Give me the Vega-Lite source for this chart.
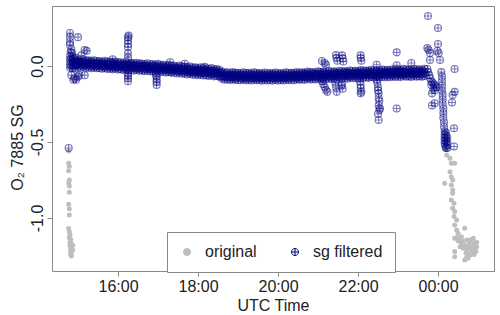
{
"$schema":"https://vega.github.io/schema/vega-lite/v6.json",
"autosize":{"type":"none"},
"width":442,"height":265,
"padding":{"left":52,"top":6,"right":6,"bottom":44},
"background":"white",
"encoding":{
 "x":{"field":"t","type":"temporal","title":"UTC Time",
  "scale":{"type":"utc","domain":[{"year":1900,"month":1,"date":1,"hours":14,"minutes":21,"utc":true},{"year":1900,"month":1,"date":2,"hours":1,"minutes":24,"utc":true}]},
  "axis":{"values":[{"year":1900,"month":1,"date":1,"hours":16,"utc":true},{"year":1900,"month":1,"date":1,"hours":18,"utc":true},{"year":1900,"month":1,"date":1,"hours":20,"utc":true},{"year":1900,"month":1,"date":1,"hours":22,"utc":true},{"year":1900,"month":1,"date":2,"hours":0,"utc":true}],
   "format":"%H:%M","labelPadding":2,"labelFlush":false,"labelOverlap":false,"titleY":39,"titleBaseline":"alphabetic","titleAlign":"center"}},
 "y":{"field":"v","type":"quantitative","title":"O₂ 7885 SG",
  "scale":{"domain":[-1.349,0.395],"nice":false,"zero":false},
  "axis":{"values":[-1,-0.5,0],"labelExpr":"replace(format(datum.value, '.1f'), '−', '-')","labelAngle":270,"labelAlign":"center","labelBaseline":"alphabetic","labelPadding":5,"titleX":-30,"titleY":141,"titleAngle":270,"titleAlign":"center","titleBaseline":"alphabetic"}}
},
"layer":[
 {"data":{"format":{"parse":{"t":"utc:'%d %H:%M'"}},"values":[
{"t":"01 14:46","v":-0.56},{"t":"01 14:46","v":-0.64},{"t":"01 14:47","v":-0.66},{"t":"01 14:46","v":-0.69},{"t":"01 14:47","v":-0.75},{"t":"01 14:46","v":-0.77},{"t":"01 14:47","v":-0.79},{"t":"01 14:47","v":-0.83},{"t":"01 14:46","v":-0.91},{"t":"01 14:47","v":-0.94},{"t":"01 14:47","v":-0.98},{"t":"01 14:46","v":-1.07},{"t":"01 14:47","v":-1.09},{"t":"01 14:48","v":-1.11},{"t":"01 14:47","v":-1.13},{"t":"01 14:49","v":-1.14},{"t":"01 14:48","v":-1.16},{"t":"01 14:50","v":-1.17},{"t":"01 14:48","v":-1.18},{"t":"01 14:50","v":-1.19},{"t":"01 14:49","v":-1.2},{"t":"01 14:51","v":-1.21},{"t":"01 14:49","v":-1.22},{"t":"01 14:50","v":-1.23},{"t":"01 14:49","v":-1.24},{"t":"01 14:50","v":-1.25},{"t":"01 14:52","v":-1.18},{"t":"01 14:52","v":-1.21},
{"t":"02 00:12","v":-0.55},{"t":"02 00:13","v":-0.586},{"t":"02 00:18","v":-0.607},{"t":"02 00:20","v":-0.64},{"t":"02 00:25","v":-0.64},{"t":"02 00:18","v":-0.695},{"t":"02 00:20","v":-0.728},{"t":"02 00:10","v":-0.772},{"t":"02 00:22","v":-0.75},{"t":"02 00:20","v":-0.783},{"t":"02 00:22","v":-0.816},{"t":"02 00:22","v":-0.838},{"t":"02 00:20","v":-0.882},{"t":"02 00:24","v":-0.903},{"t":"02 00:22","v":-0.936},{"t":"02 00:25","v":-0.958},{"t":"02 00:24","v":-0.99},{"t":"02 00:28","v":-1.013},{"t":"02 00:40","v":-1.068},{"t":"02 00:25","v":-1.046},{"t":"02 00:28","v":-1.079},{"t":"02 00:25","v":-1.134},{"t":"02 00:30","v":-1.1},{"t":"02 00:33","v":-1.145},{"t":"02 00:35","v":-1.123},{"t":"02 00:38","v":-1.167},{"t":"02 00:43","v":-1.145},{"t":"02 00:48","v":-1.145},{"t":"02 00:53","v":-1.134},{"t":"02 00:55","v":-1.167},{"t":"02 00:58","v":-1.189},{"t":"02 00:53","v":-1.21},{"t":"02 00:48","v":-1.243},{"t":"02 00:45","v":-1.265},{"t":"02 00:40","v":-1.276},{"t":"02 00:25","v":-1.221},{"t":"02 00:25","v":-1.255},{"t":"02 00:50","v":-1.2},{"t":"02 00:43","v":-1.21},
{"t":"02 00:36","v":-1.15},{"t":"02 00:38","v":-1.2},{"t":"02 00:40","v":-1.18},{"t":"02 00:42","v":-1.23},{"t":"02 00:45","v":-1.19},{"t":"02 00:47","v":-1.17},{"t":"02 00:50","v":-1.16},{"t":"02 00:52","v":-1.19},{"t":"02 00:55","v":-1.21},{"t":"02 00:57","v":-1.22},{"t":"02 00:45","v":-1.24},{"t":"02 00:50","v":-1.23},{"t":"02 00:43","v":-1.26},{"t":"02 00:48","v":-1.2},{"t":"02 00:54","v":-1.24},{"t":"02 00:58","v":-1.16},{"t":"02 00:35","v":-1.17},{"t":"02 00:33","v":-1.19},{"t":"02 00:30","v":-1.15},{"t":"02 00:28","v":-1.13}
 ]},
 "mark":{"type":"point","size":25,"strokeWidth":0,"opacity":1},
 "encoding":{
  "fill":{"datum":"original","title":null,"scale":{"domain":["original","sg filtered"],"range":["#bebebe","transparent"]}},
  "stroke":{"datum":"original","title":null,"scale":{"domain":["original","sg filtered"],"range":["#bebebe","#000080"]}},
  "shape":{"datum":"original","title":null,"scale":{"domain":["original","sg filtered"],"range":["circle","M-1,0A1,1,0,1,1,1,0A1,1,0,1,1,-1,0ZM-1,0H1M0,-1V1"]}}
 }},
 {"data":{"format":{"parse":{"t":"utc:'%d %H:%M'"}},"values":[
{"t":"01 14:48","v":0.062},{"t":"01 14:48","v":0.038},{"t":"01 14:48","v":0.012},{"t":"01 14:48","v":-0.012},
{"t":"01 14:52","v":0.058},{"t":"01 14:52","v":0.035},{"t":"01 14:52","v":0.010},{"t":"01 14:52","v":-0.014},
{"t":"01 14:56","v":0.055},{"t":"01 14:56","v":0.030},{"t":"01 14:56","v":0.006},{"t":"01 14:56","v":-0.016},
{"t":"01 15:00","v":0.041},{"t":"01 15:00","v":0.017},{"t":"01 15:00","v":-0.005},
{"t":"01 15:04","v":0.036},{"t":"01 15:04","v":0.020},{"t":"01 15:04","v":-0.010},
{"t":"01 15:08","v":0.042},{"t":"01 15:08","v":0.012},{"t":"01 15:08","v":-0.005},
{"t":"01 15:12","v":0.036},{"t":"01 15:12","v":0.016},{"t":"01 15:12","v":-0.011},
{"t":"01 15:16","v":0.037},{"t":"01 15:16","v":0.013},{"t":"01 15:16","v":-0.009},
{"t":"01 15:20","v":0.032},{"t":"01 15:20","v":0.016},{"t":"01 15:20","v":-0.014},
{"t":"01 15:24","v":0.038},{"t":"01 15:24","v":0.008},{"t":"01 15:24","v":-0.009},
{"t":"01 15:28","v":0.032},{"t":"01 15:28","v":0.012},{"t":"01 15:28","v":-0.015},
{"t":"01 15:32","v":0.033},{"t":"01 15:32","v":0.009},{"t":"01 15:32","v":-0.013},
{"t":"01 15:36","v":0.028},{"t":"01 15:36","v":0.012},{"t":"01 15:36","v":-0.018},
{"t":"01 15:40","v":0.034},{"t":"01 15:40","v":0.004},{"t":"01 15:40","v":-0.013},
{"t":"01 15:44","v":0.028},{"t":"01 15:44","v":0.008},{"t":"01 15:44","v":-0.019},
{"t":"01 15:48","v":0.029},{"t":"01 15:48","v":0.005},{"t":"01 15:48","v":-0.017},
{"t":"01 15:52","v":0.024},{"t":"01 15:52","v":0.008},{"t":"01 15:52","v":-0.022},
{"t":"01 15:56","v":0.030},{"t":"01 15:56","v":0.000},{"t":"01 15:56","v":-0.017},
{"t":"01 16:00","v":0.024},{"t":"01 16:00","v":0.004},{"t":"01 16:00","v":-0.023},
{"t":"01 16:04","v":0.025},{"t":"01 16:04","v":0.001},{"t":"01 16:04","v":-0.021},
{"t":"01 16:08","v":0.020},{"t":"01 16:08","v":0.004},{"t":"01 16:08","v":-0.026},
{"t":"01 16:12","v":0.026},{"t":"01 16:12","v":-0.004},{"t":"01 16:12","v":-0.021},
{"t":"01 16:16","v":0.020},{"t":"01 16:16","v":0.000},{"t":"01 16:16","v":-0.027},
{"t":"01 16:20","v":0.021},{"t":"01 16:20","v":-0.003},{"t":"01 16:20","v":-0.025},
{"t":"01 16:24","v":0.016},{"t":"01 16:24","v":0.000},{"t":"01 16:24","v":-0.030},
{"t":"01 16:28","v":0.022},{"t":"01 16:28","v":-0.008},{"t":"01 16:28","v":-0.025},
{"t":"01 16:32","v":0.016},{"t":"01 16:32","v":-0.004},{"t":"01 16:32","v":-0.031},
{"t":"01 16:36","v":0.017},{"t":"01 16:36","v":-0.007},{"t":"01 16:36","v":-0.029},
{"t":"01 16:40","v":0.012},{"t":"01 16:40","v":-0.004},{"t":"01 16:40","v":-0.034},
{"t":"01 16:44","v":0.018},{"t":"01 16:44","v":-0.012},{"t":"01 16:44","v":-0.029},
{"t":"01 16:48","v":0.012},{"t":"01 16:48","v":-0.008},{"t":"01 16:48","v":-0.035},
{"t":"01 16:52","v":0.013},{"t":"01 16:52","v":-0.011},{"t":"01 16:52","v":-0.033},
{"t":"01 16:56","v":0.008},{"t":"01 16:56","v":-0.008},{"t":"01 16:56","v":-0.038},
{"t":"01 17:00","v":0.014},{"t":"01 17:00","v":-0.016},{"t":"01 17:00","v":-0.033},
{"t":"01 17:04","v":0.007},{"t":"01 17:04","v":-0.013},{"t":"01 17:04","v":-0.040},
{"t":"01 17:08","v":0.008},{"t":"01 17:08","v":-0.016},{"t":"01 17:08","v":-0.038},
{"t":"01 17:12","v":0.003},{"t":"01 17:12","v":-0.013},{"t":"01 17:12","v":-0.043},
{"t":"01 17:16","v":0.008},{"t":"01 17:16","v":-0.022},{"t":"01 17:16","v":-0.039},
{"t":"01 17:20","v":0.002},{"t":"01 17:20","v":-0.018},{"t":"01 17:20","v":-0.045},
{"t":"01 17:24","v":0.003},{"t":"01 17:24","v":-0.021},{"t":"01 17:24","v":-0.043},
{"t":"01 17:28","v":-0.003},{"t":"01 17:28","v":-0.019},{"t":"01 17:28","v":-0.049},
{"t":"01 17:32","v":0.003},{"t":"01 17:32","v":-0.027},{"t":"01 17:32","v":-0.044},
{"t":"01 17:36","v":-0.004},{"t":"01 17:36","v":-0.024},{"t":"01 17:36","v":-0.051},
{"t":"01 17:40","v":-0.003},{"t":"01 17:40","v":-0.027},{"t":"01 17:40","v":-0.049},
{"t":"01 17:44","v":-0.009},{"t":"01 17:44","v":-0.025},{"t":"01 17:44","v":-0.055},
{"t":"01 17:48","v":-0.003},{"t":"01 17:48","v":-0.033},{"t":"01 17:48","v":-0.050},
{"t":"01 17:52","v":-0.010},{"t":"01 17:52","v":-0.030},{"t":"01 17:52","v":-0.057},
{"t":"01 17:56","v":-0.009},{"t":"01 17:56","v":-0.033},{"t":"01 17:56","v":-0.055},
{"t":"01 18:00","v":-0.015},{"t":"01 18:00","v":-0.031},{"t":"01 18:00","v":-0.061},
{"t":"01 18:04","v":-0.009},{"t":"01 18:04","v":-0.039},{"t":"01 18:04","v":-0.056},
{"t":"01 18:08","v":-0.015},{"t":"01 18:08","v":-0.035},{"t":"01 18:08","v":-0.062},
{"t":"01 18:12","v":-0.015},{"t":"01 18:12","v":-0.039},{"t":"01 18:12","v":-0.061},
{"t":"01 18:16","v":-0.020},{"t":"01 18:16","v":-0.036},{"t":"01 18:16","v":-0.066},
{"t":"01 18:20","v":-0.014},{"t":"01 18:20","v":-0.044},{"t":"01 18:20","v":-0.061},
{"t":"01 18:24","v":-0.021},{"t":"01 18:24","v":-0.041},{"t":"01 18:24","v":-0.068},
{"t":"01 18:28","v":-0.020},{"t":"01 18:28","v":-0.044},{"t":"01 18:28","v":-0.066},
{"t":"01 18:32","v":-0.025},{"t":"01 18:32","v":-0.041},{"t":"01 18:32","v":-0.071},
{"t":"01 18:36","v":-0.037},{"t":"01 18:36","v":-0.067},{"t":"01 18:36","v":-0.084},
{"t":"01 18:40","v":-0.043},{"t":"01 18:40","v":-0.063},{"t":"01 18:40","v":-0.090},
{"t":"01 18:44","v":-0.041},{"t":"01 18:44","v":-0.065},{"t":"01 18:44","v":-0.087},
{"t":"01 18:48","v":-0.046},{"t":"01 18:48","v":-0.062},{"t":"01 18:48","v":-0.092},
{"t":"01 18:52","v":-0.040},{"t":"01 18:52","v":-0.070},{"t":"01 18:52","v":-0.087},
{"t":"01 18:56","v":-0.045},{"t":"01 18:56","v":-0.065},{"t":"01 18:56","v":-0.092},
{"t":"01 19:00","v":-0.044},{"t":"01 19:00","v":-0.068},{"t":"01 19:00","v":-0.090},
{"t":"01 19:04","v":-0.048},{"t":"01 19:04","v":-0.064},{"t":"01 19:04","v":-0.094},
{"t":"01 19:08","v":-0.041},{"t":"01 19:08","v":-0.071},{"t":"01 19:08","v":-0.088},
{"t":"01 19:12","v":-0.047},{"t":"01 19:12","v":-0.067},{"t":"01 19:12","v":-0.094},
{"t":"01 19:16","v":-0.045},{"t":"01 19:16","v":-0.069},{"t":"01 19:16","v":-0.091},
{"t":"01 19:20","v":-0.049},{"t":"01 19:20","v":-0.065},{"t":"01 19:20","v":-0.095},
{"t":"01 19:24","v":-0.042},{"t":"01 19:24","v":-0.072},{"t":"01 19:24","v":-0.089},
{"t":"01 19:28","v":-0.047},{"t":"01 19:28","v":-0.067},{"t":"01 19:28","v":-0.094},
{"t":"01 19:32","v":-0.046},{"t":"01 19:32","v":-0.070},{"t":"01 19:32","v":-0.092},
{"t":"01 19:36","v":-0.050},{"t":"01 19:36","v":-0.066},{"t":"01 19:36","v":-0.096},
{"t":"01 19:40","v":-0.043},{"t":"01 19:40","v":-0.073},{"t":"01 19:40","v":-0.090},
{"t":"01 19:44","v":-0.048},{"t":"01 19:44","v":-0.068},{"t":"01 19:44","v":-0.095},
{"t":"01 19:48","v":-0.046},{"t":"01 19:48","v":-0.070},{"t":"01 19:48","v":-0.092},
{"t":"01 19:52","v":-0.050},{"t":"01 19:52","v":-0.066},{"t":"01 19:52","v":-0.096},
{"t":"01 19:56","v":-0.043},{"t":"01 19:56","v":-0.073},{"t":"01 19:56","v":-0.090},
{"t":"01 20:00","v":-0.048},{"t":"01 20:00","v":-0.068},{"t":"01 20:00","v":-0.095},
{"t":"01 20:04","v":-0.046},{"t":"01 20:04","v":-0.070},{"t":"01 20:04","v":-0.092},
{"t":"01 20:08","v":-0.049},{"t":"01 20:08","v":-0.065},{"t":"01 20:08","v":-0.095},
{"t":"01 20:12","v":-0.042},{"t":"01 20:12","v":-0.072},{"t":"01 20:12","v":-0.089},
{"t":"01 20:16","v":-0.046},{"t":"01 20:16","v":-0.066},{"t":"01 20:16","v":-0.093},
{"t":"01 20:20","v":-0.044},{"t":"01 20:20","v":-0.068},{"t":"01 20:20","v":-0.090},
{"t":"01 20:24","v":-0.047},{"t":"01 20:24","v":-0.063},{"t":"01 20:24","v":-0.093},
{"t":"01 20:28","v":-0.039},{"t":"01 20:28","v":-0.069},{"t":"01 20:28","v":-0.086},
{"t":"01 20:32","v":-0.044},{"t":"01 20:32","v":-0.064},{"t":"01 20:32","v":-0.091},
{"t":"01 20:36","v":-0.041},{"t":"01 20:36","v":-0.065},{"t":"01 20:36","v":-0.087},
{"t":"01 20:40","v":-0.045},{"t":"01 20:40","v":-0.061},{"t":"01 20:40","v":-0.091},
{"t":"01 20:44","v":-0.037},{"t":"01 20:44","v":-0.067},{"t":"01 20:44","v":-0.084},
{"t":"01 20:48","v":-0.042},{"t":"01 20:48","v":-0.062},{"t":"01 20:48","v":-0.089},
{"t":"01 20:52","v":-0.039},{"t":"01 20:52","v":-0.063},{"t":"01 20:52","v":-0.085},
{"t":"01 20:56","v":-0.043},{"t":"01 20:56","v":-0.059},{"t":"01 20:56","v":-0.089},
{"t":"01 21:00","v":-0.035},{"t":"01 21:00","v":-0.065},{"t":"01 21:00","v":-0.082},
{"t":"01 21:04","v":-0.040},{"t":"01 21:04","v":-0.060},{"t":"01 21:04","v":-0.087},
{"t":"01 21:08","v":-0.037},{"t":"01 21:08","v":-0.061},{"t":"01 21:08","v":-0.083},
{"t":"01 21:12","v":-0.041},{"t":"01 21:12","v":-0.057},{"t":"01 21:12","v":-0.087},
{"t":"01 21:16","v":-0.033},{"t":"01 21:16","v":-0.063},{"t":"01 21:16","v":-0.080},
{"t":"01 21:20","v":-0.038},{"t":"01 21:20","v":-0.058},{"t":"01 21:20","v":-0.085},
{"t":"01 21:24","v":-0.035},{"t":"01 21:24","v":-0.059},{"t":"01 21:24","v":-0.081},
{"t":"01 21:28","v":-0.039},{"t":"01 21:28","v":-0.055},{"t":"01 21:28","v":-0.085},
{"t":"01 21:32","v":-0.031},{"t":"01 21:32","v":-0.061},{"t":"01 21:32","v":-0.078},
{"t":"01 21:36","v":-0.036},{"t":"01 21:36","v":-0.056},{"t":"01 21:36","v":-0.083},
{"t":"01 21:40","v":-0.033},{"t":"01 21:40","v":-0.057},{"t":"01 21:40","v":-0.079},
{"t":"01 21:44","v":-0.037},{"t":"01 21:44","v":-0.053},{"t":"01 21:44","v":-0.083},
{"t":"01 21:48","v":-0.029},{"t":"01 21:48","v":-0.059},{"t":"01 21:48","v":-0.076},
{"t":"01 21:52","v":-0.033},{"t":"01 21:52","v":-0.053},{"t":"01 21:52","v":-0.080},
{"t":"01 21:56","v":-0.031},{"t":"01 21:56","v":-0.055},{"t":"01 21:56","v":-0.077},
{"t":"01 22:00","v":-0.034},{"t":"01 22:00","v":-0.050},{"t":"01 22:00","v":-0.080},
{"t":"01 22:04","v":-0.027},{"t":"01 22:04","v":-0.057},{"t":"01 22:04","v":-0.074},
{"t":"01 22:08","v":-0.031},{"t":"01 22:08","v":-0.051},{"t":"01 22:08","v":-0.078},
{"t":"01 22:12","v":-0.029},{"t":"01 22:12","v":-0.053},{"t":"01 22:12","v":-0.075},
{"t":"01 22:16","v":-0.032},{"t":"01 22:16","v":-0.048},{"t":"01 22:16","v":-0.078},
{"t":"01 22:20","v":-0.025},{"t":"01 22:20","v":-0.055},{"t":"01 22:20","v":-0.072},
{"t":"01 22:24","v":-0.029},{"t":"01 22:24","v":-0.049},{"t":"01 22:24","v":-0.076},
{"t":"01 22:28","v":-0.027},{"t":"01 22:28","v":-0.051},{"t":"01 22:28","v":-0.073},
{"t":"01 22:32","v":-0.030},{"t":"01 22:32","v":-0.046},{"t":"01 22:32","v":-0.076},
{"t":"01 22:36","v":-0.023},{"t":"01 22:36","v":-0.053},{"t":"01 22:36","v":-0.070},
{"t":"01 22:40","v":-0.027},{"t":"01 22:40","v":-0.047},{"t":"01 22:40","v":-0.074},
{"t":"01 22:44","v":-0.025},{"t":"01 22:44","v":-0.049},{"t":"01 22:44","v":-0.071},
{"t":"01 22:48","v":-0.028},{"t":"01 22:48","v":-0.044},{"t":"01 22:48","v":-0.074},
{"t":"01 22:52","v":-0.021},{"t":"01 22:52","v":-0.051},{"t":"01 22:52","v":-0.068},
{"t":"01 22:56","v":-0.025},{"t":"01 22:56","v":-0.045},{"t":"01 22:56","v":-0.072},
{"t":"01 23:00","v":-0.023},{"t":"01 23:00","v":-0.047},{"t":"01 23:00","v":-0.069},
{"t":"01 23:04","v":-0.027},{"t":"01 23:04","v":-0.043},{"t":"01 23:04","v":-0.073},
{"t":"01 23:08","v":-0.019},{"t":"01 23:08","v":-0.049},{"t":"01 23:08","v":-0.066},
{"t":"01 23:12","v":-0.024},{"t":"01 23:12","v":-0.044},{"t":"01 23:12","v":-0.071},
{"t":"01 23:16","v":-0.022},{"t":"01 23:16","v":-0.046},{"t":"01 23:16","v":-0.068},
{"t":"01 23:20","v":-0.026},{"t":"01 23:20","v":-0.042},{"t":"01 23:20","v":-0.072},
{"t":"01 23:24","v":-0.018},{"t":"01 23:24","v":-0.048},{"t":"01 23:24","v":-0.065},
{"t":"01 23:28","v":-0.023},{"t":"01 23:28","v":-0.043},{"t":"01 23:28","v":-0.070},
{"t":"01 23:32","v":-0.021},{"t":"01 23:32","v":-0.045},{"t":"01 23:32","v":-0.067},
{"t":"01 23:36","v":-0.025},{"t":"01 23:36","v":-0.041},{"t":"01 23:36","v":-0.071},
{"t":"01 23:40","v":-0.018},{"t":"01 23:40","v":-0.048},{"t":"01 23:40","v":-0.065},
{"t":"01 14:50","v":0.050},{"t":"01 14:50","v":0.025},{"t":"01 14:50","v":-0.002},
{"t":"01 14:54","v":0.047},{"t":"01 14:54","v":0.022},{"t":"01 14:54","v":-0.005},
{"t":"01 14:58","v":0.030},{"t":"01 14:58","v":0.006},{"t":"01 15:02","v":0.029},{"t":"01 15:02","v":0.005},
{"t":"01 15:06","v":0.028},{"t":"01 15:06","v":0.004},{"t":"01 15:10","v":0.027},{"t":"01 15:10","v":0.003},
{"t":"01 15:14","v":0.025},{"t":"01 15:14","v":0.002},{"t":"01 15:18","v":0.024},{"t":"01 15:18","v":0.001},
{"t":"01 15:22","v":0.023},{"t":"01 15:22","v":0.000},{"t":"01 15:26","v":0.022},{"t":"01 15:26","v":-0.001},
{"t":"01 15:30","v":0.021},{"t":"01 15:30","v":-0.002},{"t":"01 15:34","v":0.020},{"t":"01 15:34","v":-0.003},
{"t":"01 15:38","v":0.019},{"t":"01 15:38","v":-0.004},{"t":"01 15:42","v":0.018},{"t":"01 15:42","v":-0.005},
{"t":"01 15:46","v":0.017},{"t":"01 15:46","v":-0.006},{"t":"01 15:50","v":0.016},{"t":"01 15:50","v":-0.007},
{"t":"01 15:54","v":0.015},{"t":"01 15:54","v":-0.008},{"t":"01 15:58","v":0.014},{"t":"01 15:58","v":-0.009},
{"t":"01 16:02","v":0.013},{"t":"01 16:02","v":-0.010},{"t":"01 16:06","v":0.012},{"t":"01 16:06","v":-0.011},
{"t":"01 16:10","v":0.011},{"t":"01 16:10","v":-0.012},{"t":"01 16:14","v":0.010},{"t":"01 16:14","v":-0.013},
{"t":"01 16:18","v":0.009},{"t":"01 16:18","v":-0.014},{"t":"01 16:22","v":0.008},{"t":"01 16:22","v":-0.015},
{"t":"01 16:26","v":0.007},{"t":"01 16:26","v":-0.016},{"t":"01 16:30","v":0.006},{"t":"01 16:30","v":-0.017},
{"t":"01 16:34","v":0.005},{"t":"01 16:34","v":-0.018},{"t":"01 16:38","v":0.004},{"t":"01 16:38","v":-0.019},
{"t":"01 16:42","v":0.003},{"t":"01 16:42","v":-0.020},{"t":"01 16:46","v":0.002},{"t":"01 16:46","v":-0.021},
{"t":"01 16:50","v":0.001},{"t":"01 16:50","v":-0.022},{"t":"01 16:54","v":0.000},{"t":"01 16:54","v":-0.023},
{"t":"01 16:58","v":-0.001},{"t":"01 16:58","v":-0.024},{"t":"01 17:02","v":-0.002},{"t":"01 17:02","v":-0.025},
{"t":"01 17:06","v":-0.004},{"t":"01 17:06","v":-0.027},{"t":"01 17:10","v":-0.005},{"t":"01 17:10","v":-0.028},
{"t":"01 17:14","v":-0.006},{"t":"01 17:14","v":-0.029},{"t":"01 17:18","v":-0.008},{"t":"01 17:18","v":-0.031},
{"t":"01 17:22","v":-0.009},{"t":"01 17:22","v":-0.032},{"t":"01 17:26","v":-0.010},{"t":"01 17:26","v":-0.033},
{"t":"01 17:30","v":-0.012},{"t":"01 17:30","v":-0.035},{"t":"01 17:34","v":-0.013},{"t":"01 17:34","v":-0.036},
{"t":"01 17:38","v":-0.015},{"t":"01 17:38","v":-0.038},{"t":"01 17:42","v":-0.016},{"t":"01 17:42","v":-0.039},
{"t":"01 17:46","v":-0.018},{"t":"01 17:46","v":-0.041},{"t":"01 17:50","v":-0.019},{"t":"01 17:50","v":-0.042},
{"t":"01 17:54","v":-0.021},{"t":"01 17:54","v":-0.044},{"t":"01 17:58","v":-0.022},{"t":"01 17:58","v":-0.045},
{"t":"01 18:02","v":-0.024},{"t":"01 18:02","v":-0.047},{"t":"01 18:06","v":-0.025},{"t":"01 18:06","v":-0.048},
{"t":"01 18:10","v":-0.026},{"t":"01 18:10","v":-0.049},{"t":"01 18:14","v":-0.028},{"t":"01 18:14","v":-0.051},
{"t":"01 18:18","v":-0.029},{"t":"01 18:18","v":-0.052},{"t":"01 18:22","v":-0.030},{"t":"01 18:22","v":-0.053},
{"t":"01 18:26","v":-0.032},{"t":"01 18:26","v":-0.055},{"t":"01 18:30","v":-0.033},{"t":"01 18:30","v":-0.056},
{"t":"01 18:34","v":-0.045},{"t":"01 18:34","v":-0.068},{"t":"01 18:38","v":-0.053},{"t":"01 18:38","v":-0.076},
{"t":"01 18:42","v":-0.053},{"t":"01 18:42","v":-0.076},{"t":"01 18:46","v":-0.054},{"t":"01 18:46","v":-0.077},
{"t":"01 18:50","v":-0.055},{"t":"01 18:50","v":-0.078},{"t":"01 18:54","v":-0.055},{"t":"01 18:54","v":-0.078},
{"t":"01 18:58","v":-0.056},{"t":"01 18:58","v":-0.079},{"t":"01 19:02","v":-0.056},{"t":"01 19:02","v":-0.079},
{"t":"01 19:06","v":-0.056},{"t":"01 19:06","v":-0.079},{"t":"01 19:10","v":-0.057},{"t":"01 19:10","v":-0.080},
{"t":"01 19:14","v":-0.057},{"t":"01 19:14","v":-0.080},{"t":"01 19:18","v":-0.057},{"t":"01 19:18","v":-0.080},
{"t":"01 19:22","v":-0.057},{"t":"01 19:22","v":-0.080},{"t":"01 19:26","v":-0.057},{"t":"01 19:26","v":-0.080},
{"t":"01 19:30","v":-0.058},{"t":"01 19:30","v":-0.081},{"t":"01 19:34","v":-0.058},{"t":"01 19:34","v":-0.081},
{"t":"01 19:38","v":-0.058},{"t":"01 19:38","v":-0.081},{"t":"01 19:42","v":-0.058},{"t":"01 19:42","v":-0.081},
{"t":"01 19:46","v":-0.058},{"t":"01 19:46","v":-0.081},{"t":"01 19:50","v":-0.058},{"t":"01 19:50","v":-0.081},
{"t":"01 19:54","v":-0.058},{"t":"01 19:54","v":-0.081},{"t":"01 19:58","v":-0.058},{"t":"01 19:58","v":-0.081},
{"t":"01 20:02","v":-0.058},{"t":"01 20:02","v":-0.081},{"t":"01 20:06","v":-0.058},{"t":"01 20:06","v":-0.081},
{"t":"01 20:10","v":-0.057},{"t":"01 20:10","v":-0.080},{"t":"01 20:14","v":-0.057},{"t":"01 20:14","v":-0.080},
{"t":"01 20:18","v":-0.056},{"t":"01 20:18","v":-0.079},{"t":"01 20:22","v":-0.056},{"t":"01 20:22","v":-0.079},
{"t":"01 20:26","v":-0.055},{"t":"01 20:26","v":-0.078},{"t":"01 20:30","v":-0.054},{"t":"01 20:30","v":-0.077},
{"t":"01 20:34","v":-0.054},{"t":"01 20:34","v":-0.077},{"t":"01 20:38","v":-0.053},{"t":"01 20:38","v":-0.076},
{"t":"01 20:42","v":-0.053},{"t":"01 20:42","v":-0.076},{"t":"01 20:46","v":-0.052},{"t":"01 20:46","v":-0.075},
{"t":"01 20:50","v":-0.052},{"t":"01 20:50","v":-0.075},{"t":"01 20:54","v":-0.051},{"t":"01 20:54","v":-0.074},
{"t":"01 20:58","v":-0.051},{"t":"01 20:58","v":-0.074},{"t":"01 21:02","v":-0.050},{"t":"01 21:02","v":-0.073},
{"t":"01 21:06","v":-0.050},{"t":"01 21:06","v":-0.073},{"t":"01 21:10","v":-0.049},{"t":"01 21:10","v":-0.072},
{"t":"01 21:14","v":-0.049},{"t":"01 21:14","v":-0.072},{"t":"01 21:18","v":-0.048},{"t":"01 21:18","v":-0.071},
{"t":"01 21:22","v":-0.048},{"t":"01 21:22","v":-0.071},{"t":"01 21:26","v":-0.047},{"t":"01 21:26","v":-0.070},
{"t":"01 21:30","v":-0.047},{"t":"01 21:30","v":-0.070},{"t":"01 21:34","v":-0.046},{"t":"01 21:34","v":-0.069},
{"t":"01 21:38","v":-0.046},{"t":"01 21:38","v":-0.069},{"t":"01 21:42","v":-0.045},{"t":"01 21:42","v":-0.068},
{"t":"01 21:46","v":-0.045},{"t":"01 21:46","v":-0.068},{"t":"01 21:50","v":-0.044},{"t":"01 21:50","v":-0.067},
{"t":"01 21:54","v":-0.043},{"t":"01 21:54","v":-0.066},{"t":"01 21:58","v":-0.043},{"t":"01 21:58","v":-0.066},
{"t":"01 22:02","v":-0.042},{"t":"01 22:02","v":-0.065},{"t":"01 22:06","v":-0.042},{"t":"01 22:06","v":-0.065},
{"t":"01 22:10","v":-0.041},{"t":"01 22:10","v":-0.064},{"t":"01 22:14","v":-0.041},{"t":"01 22:14","v":-0.064},
{"t":"01 22:18","v":-0.040},{"t":"01 22:18","v":-0.063},{"t":"01 22:22","v":-0.040},{"t":"01 22:22","v":-0.063},
{"t":"01 22:26","v":-0.039},{"t":"01 22:26","v":-0.062},{"t":"01 22:30","v":-0.039},{"t":"01 22:30","v":-0.062},
{"t":"01 22:34","v":-0.038},{"t":"01 22:34","v":-0.061},{"t":"01 22:38","v":-0.038},{"t":"01 22:38","v":-0.061},
{"t":"01 22:42","v":-0.037},{"t":"01 22:42","v":-0.060},{"t":"01 22:46","v":-0.037},{"t":"01 22:46","v":-0.060},
{"t":"01 22:50","v":-0.036},{"t":"01 22:50","v":-0.059},{"t":"01 22:54","v":-0.036},{"t":"01 22:54","v":-0.059},
{"t":"01 22:58","v":-0.035},{"t":"01 22:58","v":-0.058},{"t":"01 23:02","v":-0.035},{"t":"01 23:02","v":-0.058},
{"t":"01 23:06","v":-0.035},{"t":"01 23:06","v":-0.058},{"t":"01 23:10","v":-0.034},{"t":"01 23:10","v":-0.057},
{"t":"01 23:14","v":-0.034},{"t":"01 23:14","v":-0.057},{"t":"01 23:18","v":-0.034},{"t":"01 23:18","v":-0.057},
{"t":"01 23:22","v":-0.034},{"t":"01 23:22","v":-0.057},{"t":"01 23:26","v":-0.033},{"t":"01 23:26","v":-0.056},
{"t":"01 23:30","v":-0.033},{"t":"01 23:30","v":-0.056},{"t":"01 23:34","v":-0.033},{"t":"01 23:34","v":-0.056},
{"t":"01 23:38","v":-0.033},{"t":"01 23:38","v":-0.056},
{"t":"01 14:46","v":-0.54},{"t":"01 14:48","v":0.217},{"t":"01 14:48","v":0.19},{"t":"01 14:48","v":0.158},{"t":"01 14:48","v":0.138},{"t":"01 14:49","v":0.09},{"t":"01 14:50","v":-0.06},{"t":"01 14:51","v":0.085},{"t":"01 14:53","v":-0.09},{"t":"01 14:55","v":-0.08},{"t":"01 14:57","v":-0.09},{"t":"01 14:50","v":0.11},{"t":"01 15:00","v":0.19},{"t":"01 15:00","v":-0.07},{"t":"01 15:02","v":-0.06},{"t":"01 15:05","v":0.07},{"t":"01 15:10","v":0.105},{"t":"01 15:13","v":0.1},{"t":"01 15:10","v":-0.06},{"t":"01 15:52","v":0.045},
{"t":"01 16:15","v":0.19},{"t":"01 16:15","v":0.17},{"t":"01 16:15","v":0.145},{"t":"01 16:15","v":0.125},{"t":"01 16:15","v":0.085},{"t":"01 16:15","v":0.055},{"t":"01 16:16","v":0.2},{"t":"01 16:15","v":-0.05},{"t":"01 16:15","v":-0.065},{"t":"01 16:15","v":-0.08},{"t":"01 16:15","v":-0.1},
{"t":"01 16:57","v":-0.06},{"t":"01 16:58","v":-0.07},{"t":"01 16:58","v":-0.09},{"t":"01 16:58","v":-0.105},{"t":"01 16:58","v":-0.125},{"t":"01 17:18","v":0.025},{"t":"01 17:40","v":0.015},{"t":"01 18:10","v":-0.005},
{"t":"01 21:06","v":0.033},{"t":"01 21:10","v":0.02},{"t":"01 21:12","v":0.008},{"t":"01 21:06","v":-0.1},{"t":"01 21:08","v":-0.12},{"t":"01 21:10","v":-0.138},{"t":"01 21:12","v":-0.158},{"t":"01 21:14","v":-0.17},
{"t":"01 21:27","v":0.072},{"t":"01 21:28","v":0.053},{"t":"01 21:29","v":0.035},{"t":"01 21:36","v":0.07},{"t":"01 21:37","v":0.05},{"t":"01 21:38","v":0.03},{"t":"01 21:26","v":-0.11},{"t":"01 21:27","v":-0.14},{"t":"01 21:28","v":-0.17},{"t":"01 21:35","v":-0.13},{"t":"01 21:36","v":-0.12},{"t":"01 21:37","v":-0.15},
{"t":"01 22:04","v":0.07},{"t":"01 22:04","v":0.053},{"t":"01 22:05","v":0.035},{"t":"01 22:03","v":-0.1},{"t":"01 22:04","v":-0.125},{"t":"01 22:04","v":-0.145},{"t":"01 22:05","v":-0.17},{"t":"01 22:04","v":-0.18},
{"t":"01 22:28","v":0.008},{"t":"01 22:28","v":-0.09},{"t":"01 22:29","v":-0.11},{"t":"01 22:30","v":-0.14},{"t":"01 22:30","v":-0.16},{"t":"01 22:31","v":-0.18},{"t":"01 22:31","v":-0.21},{"t":"01 22:32","v":-0.23},{"t":"01 22:31","v":-0.26},{"t":"01 22:33","v":-0.28},{"t":"01 22:32","v":-0.29},{"t":"01 22:30","v":-0.316},{"t":"01 22:31","v":-0.355},
{"t":"01 22:58","v":0.09},{"t":"01 22:58","v":-0.28},{"t":"01 22:58","v":0.005},{"t":"01 23:20","v":0.02},
{"t":"01 23:45","v":0.329},{"t":"02 00:00","v":0.25},{"t":"02 00:00","v":0.145},{"t":"01 23:44","v":0.118},{"t":"01 23:46","v":0.105},{"t":"01 23:48","v":0.086},{"t":"01 23:59","v":0.099},{"t":"02 00:01","v":0.086},{"t":"01 23:48","v":0.04},{"t":"02 00:03","v":0.04},
{"t":"01 23:44","v":-0.02},{"t":"01 23:45","v":-0.04},{"t":"01 23:47","v":-0.06},{"t":"01 23:48","v":-0.08},{"t":"01 23:50","v":-0.1},{"t":"01 23:52","v":-0.11},{"t":"01 23:54","v":-0.12},{"t":"01 23:56","v":-0.13},{"t":"01 23:58","v":-0.14},{"t":"01 23:50","v":-0.125},{"t":"01 23:53","v":-0.15},{"t":"01 23:55","v":-0.16},{"t":"01 23:51","v":-0.18},{"t":"01 23:51","v":-0.26},{"t":"01 23:55","v":-0.245},
{"t":"02 00:05","v":-0.04},{"t":"02 00:06","v":-0.07},{"t":"02 00:06","v":-0.1},{"t":"02 00:06","v":-0.13},{"t":"02 00:06","v":-0.16},{"t":"02 00:07","v":-0.19},{"t":"02 00:07","v":-0.22},{"t":"02 00:07","v":-0.25},{"t":"02 00:08","v":-0.28},{"t":"02 00:08","v":-0.31},{"t":"02 00:08","v":-0.34},{"t":"02 00:09","v":-0.37},{"t":"02 00:09","v":-0.4},{"t":"02 00:10","v":-0.43},
{"t":"02 00:10","v":-0.45},{"t":"02 00:10","v":-0.47},{"t":"02 00:10","v":-0.49},{"t":"02 00:10","v":-0.51},{"t":"02 00:11","v":-0.53},{"t":"02 00:12","v":-0.54},{"t":"02 00:12","v":-0.44},{"t":"02 00:12","v":-0.46},{"t":"02 00:12","v":-0.48},{"t":"02 00:12","v":-0.5},{"t":"02 00:13","v":-0.52},{"t":"02 00:14","v":-0.54},{"t":"02 00:14","v":-0.47},{"t":"02 00:14","v":-0.5},
{"t":"02 00:25","v":-0.02},{"t":"02 00:22","v":-0.19},{"t":"02 00:25","v":-0.17},{"t":"02 00:21","v":-0.24},{"t":"02 00:24","v":-0.41},{"t":"02 00:24","v":-0.53}
 ]},
 "mark":{"type":"point","size":49,"strokeWidth":1.1,"strokeOpacity":0.75},
 "encoding":{
  "fill":{"datum":"sg filtered","title":null,"scale":{"domain":["original","sg filtered"],"range":["#bebebe","transparent"]}},
  "stroke":{"datum":"sg filtered","title":null,"scale":{"domain":["original","sg filtered"],"range":["#bebebe","#000080"]}},
  "shape":{"datum":"sg filtered","title":null,"scale":{"domain":["original","sg filtered"],"range":["circle","M-1,0A1,1,0,1,1,1,0A1,1,0,1,1,-1,0ZM-1,0H1M0,-1V1"]}}
 }}
],
"config":{
 "font":"Liberation Sans",
 "view":{"stroke":"#888","strokeWidth":1},
 "axis":{"domain":false,"grid":false,"tickColor":"#888","tickSize":5,"labelFontSize":16,"titleFontSize":16,"labelColor":"#222","titleColor":"#222","titleFontWeight":"normal","labelFont":"Liberation Sans","titleFont":"Liberation Sans"},
 "legend":{"orient":"none","legendX":115,"legendY":226,"direction":"horizontal","columns":2,"columnPadding":30,"padding":12,"strokeColor":"#888","fillColor":"white","labelFontSize":16,"labelColor":"#222","labelFont":"Liberation Sans","labelOffset":10,"symbolSize":49,"symbolStrokeWidth":1,"cornerRadius":0}
}
}
